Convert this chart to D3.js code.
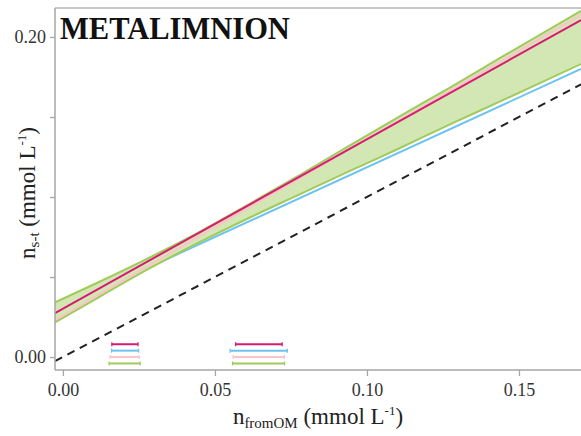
<!DOCTYPE html>
<html><head><meta charset="utf-8">
<script src="https://cdn.jsdelivr.net/npm/d3@7"></script>
<style>body{margin:0;background:#fff}svg{display:block}</style>
</head><body>
<script>
// Data
const xRange = [-0.0026, 0.1704];
const magentaLine = [[-0.0026, 0.0275], [0.1704, 0.2106]];
const pinkLine    = [[-0.0026, 0.0231], [0.1704, 0.2138]];
const blueLine    = [[-0.0026, 0.0291], [0.1704, 0.1800]];
// green confidence band: x, lower, upper
const bandX     = [-0.0026, 0.0122, 0.0286, 0.0451, 0.0615, 0.0780, 0.0944, 0.1109, 0.1273, 0.1438, 0.1704];
const bandLower = [0.0216, 0.0378, 0.0555, 0.0719, 0.0872, 0.1018, 0.1163, 0.1306, 0.1454, 0.1597, 0.1831];
const bandUpper = [0.0341, 0.0472, 0.0623, 0.0784, 0.0959, 0.1139, 0.1323, 0.1506, 0.1684, 0.1869, 0.2163];
const oneToOne  = [[-0.0026, -0.0026], [0.1704, 0.1704]];
const seriesNames = ["magenta", "blue", "pink", "green"];
const barRowY     = [0.008, 0.004, 0.000, -0.004];
const barsGroup1  = [[0.0161, 0.0247], [0.0160, 0.0249], [0.0155, 0.0251], [0.0152, 0.0254]];
const barsGroup2  = [[0.0568, 0.0721], [0.0550, 0.0738], [0.0560, 0.0728], [0.0558, 0.0729]];
const xTicks = [0, 0.05, 0.10, 0.15];
const yTicks = [0, 0.05, 0.10, 0.15, 0.20];
const yTickLabels = ["0.00", "", "", "", "0.20"];

const colors = {magenta: "#d81b72", blue: "#6cc3f2", pink: "#fbc4c9", green: "#a0cb5c"};

const W = 581, H = 436;
const L = 55, R = 581, T = 8, B = 370;
const x = d3.scaleLinear().domain(xRange).range([L, R]);
const y = d3.scaleLinear().domain([-0.0081, 0.2181]).range([B, T]);

const svg = d3.select("body").append("svg").attr("width", W).attr("height", H)
  .style("font-family", "'Liberation Serif','DejaVu Serif',serif");

svg.append("defs").append("clipPath").attr("id", "clip")
  .append("rect").attr("x", L).attr("y", T).attr("width", R - L).attr("height", B - T);

const g = svg.append("g").attr("clip-path", "url(#clip)");
const line = d3.line().x(d => x(d[0])).y(d => y(d[1]));

g.append("path").datum(blueLine).attr("d", line).attr("fill", "none")
  .attr("stroke", colors.blue).attr("stroke-width", 2);

// green band
const band = bandX.map((v, i) => ({x: v, lo: bandLower[i], hi: bandUpper[i]}));
g.append("path").datum(band)
  .attr("d", d3.area().curve(d3.curveMonotoneX).x(d => x(d.x)).y0(d => y(d.lo)).y1(d => y(d.hi)))
  .attr("fill", "#d2e7b4");
const edge = key => d3.line().curve(d3.curveMonotoneX).x(d => x(d.x)).y(d => y(d[key]));
["lo", "hi"].forEach(k => g.append("path").datum(band).attr("d", edge(k)).attr("fill", "none")
  .attr("stroke", colors.green).attr("stroke-width", 2));

g.append("path").datum(pinkLine).attr("d", line).attr("fill", "none")
  .attr("stroke", colors.pink).attr("stroke-width", 2);
g.append("path").datum(magentaLine).attr("d", line).attr("fill", "none")
  .attr("stroke", colors.magenta).attr("stroke-width", 2);

g.append("path").datum(oneToOne).attr("d", line).attr("fill", "none")
  .attr("stroke", "#222").attr("stroke-width", 2).attr("stroke-dasharray", "8,6");

// error bars
[barsGroup1, barsGroup2].forEach(grp => {
  grp.forEach((b, i) => {
    const c = colors[seriesNames[i]];
    const yy = y(barRowY[i]);
    g.append("line").attr("x1", x(b[0])).attr("x2", x(b[1])).attr("y1", yy).attr("y2", yy)
      .attr("stroke", c).attr("stroke-width", 2);
    [b[0], b[1]].forEach(v => g.append("line").attr("x1", x(v)).attr("x2", x(v))
      .attr("y1", yy - 2).attr("y2", yy + 2).attr("stroke", c).attr("stroke-width", 1.3));
  });
});

// frame
const axisColor = "#a6a6a6";
svg.append("line").attr("x1", L).attr("x2", R).attr("y1", T).attr("y2", T)
  .attr("stroke", "#c8c8c8").attr("stroke-width", 2);
svg.append("line").attr("x1", L).attr("x2", L).attr("y1", T).attr("y2", B)
  .attr("stroke", axisColor).attr("stroke-width", 1.5);
svg.append("line").attr("x1", L).attr("x2", R).attr("y1", B).attr("y2", B)
  .attr("stroke", axisColor).attr("stroke-width", 1.5);

// x axis
const xa = svg.append("g").attr("transform", `translate(0,${B})`)
  .call(d3.axisBottom(x).tickValues(xTicks).tickFormat(d3.format(".2f")).tickSize(6).tickSizeOuter(0));
xa.attr("font-family", null).attr("font-size", null);
xa.select(".domain").remove();
xa.selectAll(".tick line").attr("stroke", axisColor).attr("stroke-width", 1.3);
xa.selectAll(".tick text").style("font-size", "18px").attr("fill", "#333")
  .style("font-family", "'Liberation Serif',serif").attr("dy", "0.95em");

// y axis
const ya = svg.append("g").attr("transform", `translate(${L},0)`)
  .call(d3.axisLeft(y).tickValues(yTicks).tickFormat((d, i) => yTickLabels[i]).tickSize(5).tickSizeOuter(0));
ya.attr("font-family", null).attr("font-size", null);
ya.select(".domain").remove();
ya.selectAll(".tick line").attr("stroke", axisColor).attr("stroke-width", 1.3);
ya.selectAll(".tick text").style("font-size", "18px").attr("fill", "#333")
  .style("font-family", "'Liberation Serif',serif").attr("x", -9);

// title
svg.append("text").attr("x", 60).attr("y", 39).attr("font-size", 30.5).attr("font-weight", "bold")
  .attr("fill", "#111").text("METALIMNION");

// x label
const xl = svg.append("text").attr("x", 318).attr("y", 424).attr("text-anchor", "middle")
  .attr("font-size", 23).attr("fill", "#222");
xl.append("tspan").text("n");
xl.append("tspan").attr("font-size", 15).attr("dy", 4).text("fromOM");
xl.append("tspan").attr("dy", -4).text(" (mmol L");
xl.append("tspan").attr("font-size", 13).attr("dy", -9).text("-1");
xl.append("tspan").attr("dy", 9).text(")");

// y label
const yl = svg.append("text").attr("transform", "translate(35,193) rotate(-90)")
  .attr("text-anchor", "middle").attr("font-size", 23).attr("fill", "#222");
yl.append("tspan").text("n");
yl.append("tspan").attr("font-size", 15).attr("dy", 4).text("s-t");
yl.append("tspan").attr("dy", -4).text(" (mmol L");
yl.append("tspan").attr("font-size", 13).attr("dy", -9).text("-1");
yl.append("tspan").attr("dy", 9).text(")");
</script>
</body></html>
